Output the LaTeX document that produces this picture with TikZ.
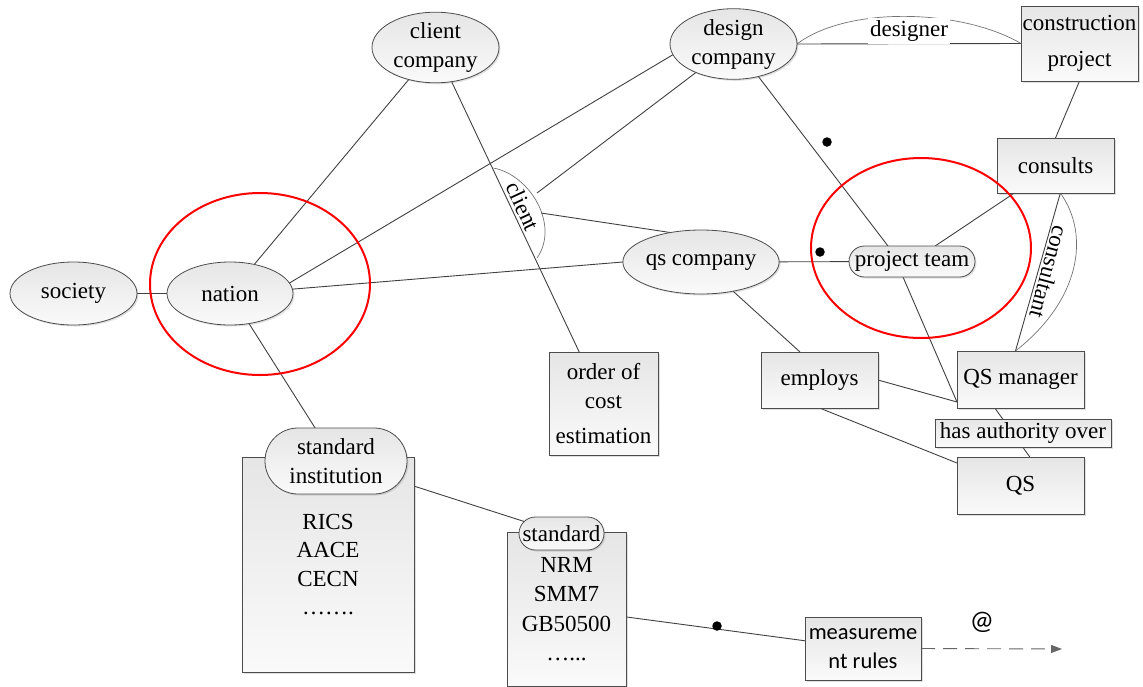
\documentclass[tikz,border=0pt]{standalone}
\usepackage{fontspec}
\setmainfont{Liberation Serif}
\newfontfamily\calib{Carlito}
\usetikzlibrary{shapes.geometric,shapes.misc,shadows,arrows.meta,calc}
\pgfdeclarelayer{bg}
\pgfsetlayers{bg,main}

\begin{document}
\begin{tikzpicture}[x=1pt,y=-1pt,
  every node/.style={font=\fontsize{23}{29}\selectfont, inner sep=0pt, outer sep=0pt},
  facet/.style={top color=black!10, bottom color=black!2, draw=black!70, line width=0.8pt,
    drop shadow={opacity=0.25, shadow xshift=1.5pt, shadow yshift=-1.5pt}},
  ovalnode/.style={facet, ellipse, align=center},
  boxnode/.style={facet, rectangle, align=center},
  pillnode/.style={facet, rounded rectangle, align=center},
  linkline/.style={draw=black!75, line width=0.9pt},
  faintarc/.style={draw=black!55, line width=0.7pt},
  redring/.style={draw=red, line width=2pt, ellipse},
  blackdot/.style={circle, fill=black, minimum size=9.5pt},
  sansfont/.style={font=\calib\fontsize{22.5}{29}\selectfont}
]
\useasboundingbox (0,0) rectangle (1143,686);

% --- entities -------------------------------------------------------
\node[ovalnode, minimum width=127, minimum height=63] (society) at (73.5,293.5) {society};
\node[ovalnode, minimum width=126, minimum height=63] (nation) at (230,293.5) {nation};
\node[ovalnode, minimum width=127, minimum height=67] (client) at (435.5,47.5) {client\\company};
\node[ovalnode, minimum width=127, minimum height=68] (design) at (733.5,44) {design\\company};
\node[ovalnode, minimum width=130, minimum height=64] (qs) at (701,262) {qs company};
\node[pillnode, minimum width=126, minimum height=31] (team) at (912,261.5) {project team};
\node[boxnode, minimum width=117, minimum height=75] (construction) at (1079.5,43.5) {construction\\[7pt]project};
\node[boxnode, minimum width=117, minimum height=55] (consults) at (1055.5,165.5) {consults};
\node[boxnode, minimum width=109, minimum height=103] (order) at (603.5,403.5) {order of\\cost\\[6pt]estimation};
\node[boxnode, minimum width=117, minimum height=56] (employs) at (819.5,380) {employs};
\node[boxnode, minimum width=127, minimum height=57] (qsm) at (1020.5,379.5) {QS manager};
\node[boxnode, minimum width=127, minimum height=57] (qsp) at (1020.5,485.5) {QS};
\node[boxnode, sansfont, minimum width=116, minimum height=63] (rules) at (863,648.5) {measureme\\nt rules};

% standard institution with its members
\node[boxnode, minimum width=172, minimum height=215, font=\fontsize{23}{28.5}\selectfont] (institution) at (328,564.5) {RICS\\AACE\\CECN\\…….};
\node[pillnode, minimum width=142, minimum height=66] (instlabel) at (336,461) {standard\\institution};

% standards
\node[boxnode, minimum width=119, minimum height=154, font=\fontsize{23}{29.3}\selectfont] (stdbody) at (566.5,609) {NRM\\SMM7\\GB50500\\…...};
\node[pillnode, minimum width=85, minimum height=33] (stdlabel) at (561.5,533.5) {standard};

% markers
\node[blackdot] (dotA) at (827,142) {};
\node[blackdot] (dotB) at (820,252) {};
\node[blackdot] (dotC) at (717,626) {};

% --- relation labels -----------------------------------------------
\coordinate (clA) at (493.5,168);
\coordinate (clB) at (537,258);
\coordinate (clC) at (537,193);
\coordinate (clD) at (541,213);
\node[rotate=-65] (clientlbl) at (523,206) {client};
\node[rotate=-105] (consultant) at (1049,272) {consultant};
\coordinate (arrowend) at (1062,649);
\node[font=\calib\fontsize{27}{29}\selectfont] (atsign) at (982,622) {@};

% --- connectors ----------------------------------------------------
\begin{pgfonlayer}{bg}
\draw[linkline] (society) -- (nation);
\draw[linkline] (nation) -- (client);
\draw[linkline] (nation.10) -- (design.190);
\draw[linkline] (nation.4) -- (qs.west);
\draw[linkline] (client) -- (order);
\draw[faintarc] (clA) .. controls (530,175) and (560,225) .. (clB);
\draw[linkline] (design) -- (clC);
\draw[linkline] (qs.136) -- (clD);
\draw[linkline] (design.east) -- (construction.west);
\draw[faintarc] (design.east) .. controls +(50,-38) and +(-60,-35) .. (construction.west);
\draw[linkline] (design) -- ([xshift=-24pt]team.north);
\draw[linkline] (qs) -- (team);
\draw[linkline] (consults) -- (team);
\draw[linkline] (construction.south) -- (consults.north);
\draw[linkline] (consults.-80) -- (qsm.100);
\draw[faintarc] (consults.-80) .. controls +(30,42) and +(65,-51) .. (qsm.100);
\draw[linkline] (qs) -- ([xshift=-19.5pt]employs.north);
\draw[linkline] (employs.east) -- ([yshift=-22.5pt]qsm.west);
\draw[linkline] ([xshift=-9pt]team.south) -- ([yshift=-22.5pt]qsm.west);
\draw[linkline] (employs.south) -- ([yshift=22.5pt]qsp.west);
\draw[linkline] (qsm.-132) -- (qsp.72);
\draw[linkline] (nation) -- (instlabel);
\draw[linkline] (instlabel) -- (stdlabel);
\draw[linkline] (stdbody) -- (rules);
\draw[draw=black!60, line width=0.9pt, dash pattern=on 14pt off 8pt, -{Triangle[length=11pt,width=8pt]}] (rules.east) -- (arrowend);
\end{pgfonlayer}

% labels that sit on top of their connectors
\node[fill=white, inner xsep=2pt, inner ysep=3pt] (designer) at (909,31) {designer};
\node[boxnode, minimum width=176, minimum height=28] (authority) at (1023,433) {has authority over};

% highlighted groups
\node[redring, minimum width=220, minimum height=182] (ringA) at (260,284) {};
\node[redring, minimum width=220, minimum height=180] (ringB) at (921,248) {};
\end{tikzpicture}
\end{document}
